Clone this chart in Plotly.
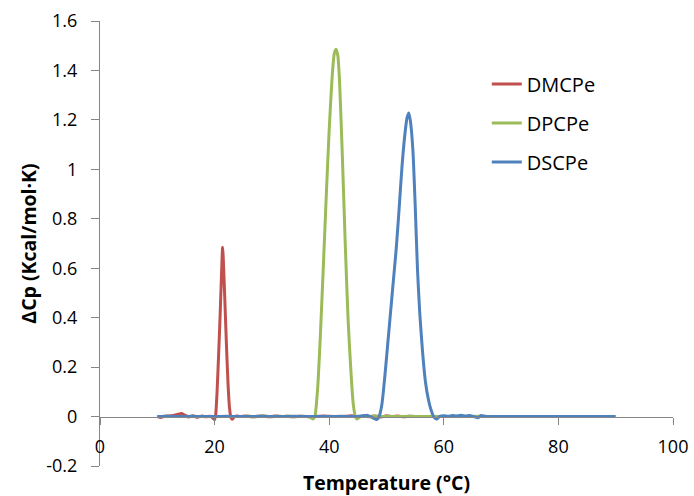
import plotly.graph_objects as go

# ---- data ----
dmcpe_T = [10, 10.6, 11.2, 12, 12.8, 13.6, 14.2, 14.8, 15.5, 16.2, 17, 17.8, 18.5, 19.2, 19.6,
           20.0, 20.2, 20.45, 20.7, 20.95, 21.2, 21.4, 21.6, 21.85, 22.1, 22.35, 22.6, 22.85,
           23.1, 23.4, 23.8, 24.5, 25.5, 26.5, 27.5, 28.5, 29.5, 30.5, 31.5, 32.5, 33.5, 35,
           37, 39, 41, 43, 44, 45, 46, 47, 48, 49, 50, 51, 52, 53, 54, 55]
dmcpe_cp = [0.0, -0.004, 0.001, 0.002, 0.004, 0.009, 0.012, 0.006, -0.002, 0.003, -0.003, 0.002,
            -0.001, 0.001, -0.004, -0.012, 0.01, 0.11, 0.25, 0.40, 0.57, 0.685, 0.59, 0.43, 0.27,
            0.13, 0.035, -0.004, -0.011, -0.002, 0.002, 0.0, 0.002, -0.001, 0.001, 0.002, -0.001,
            0.002, 0.0, 0.001, -0.001, 0.001, 0.0, 0.002, 0.0, 0.001, 0.003, -0.002, 0.003, 0.0,
            0.002, -0.002, 0.003, 0.0, 0.002, -0.001, 0.001, 0.0]

dpcpe_T = [25, 26, 27, 28, 29, 30, 31, 32, 33, 34, 35, 36, 36.8, 37.2, 37.5, 38.0, 38.5, 39.0,
           39.5, 40.0, 40.5, 40.9, 41.2, 41.5, 41.8, 42.3, 42.8, 43.3, 43.8, 44.2, 44.6, 44.9,
           45.3, 46, 47, 48, 49, 50, 52, 54, 56, 58, 60, 62, 64, 66, 68]
dpcpe_cp = [0.0, 0.002, -0.002, 0.001, 0.002, -0.001, 0.002, 0.0, 0.002, -0.001, 0.001, 0.0,
            -0.004, -0.01, 0.0, 0.12, 0.35, 0.62, 0.9, 1.16, 1.37, 1.47, 1.486, 1.46, 1.36, 1.05,
            0.7, 0.39, 0.18, 0.05, -0.003, -0.01, -0.002, 0.001, -0.001, 0.002, 0.0, 0.001, 0.0,
            0.001, 0.0, 0.001, 0.0, 0.001, 0.0, 0.001, 0.0]

dscpe_T = [10, 12, 14, 16, 18, 20, 22, 24, 26, 28, 30, 32, 34, 36, 38, 40, 42, 44, 45.2, 46.0,
           46.6, 47.2, 47.8, 48.3, 48.7, 49.2, 49.7, 50.2, 50.7, 51.2, 51.7, 52.2, 52.7, 53.2,
           53.6, 53.9, 54.2, 54.6, 55.0, 55.4, 55.8, 56.3, 56.8, 57.3, 57.8, 58.3, 58.8, 59.3,
           60, 60.8, 61.5, 62.2, 63, 63.8, 64.5, 65.2, 66, 66.5, 67.2, 68, 70, 72, 74, 76, 78,
           80, 82, 84, 86, 88, 90]
dscpe_cp = [0.0, 0.001, 0.0, 0.001, 0.0, 0.0, 0.001, 0.0, 0.0, 0.001, 0.0, 0.0, 0.001, 0.0, 0.0,
            0.0, 0.001, 0.0, 0.001, 0.003, 0.005, 0.0, -0.007, -0.012, 0.0, 0.05, 0.16, 0.29,
            0.42, 0.55, 0.68, 0.84, 1.01, 1.14, 1.21, 1.228, 1.19, 1.08, 0.86, 0.6, 0.42, 0.26,
            0.14, 0.07, 0.025, -0.003, -0.01, 0.001, 0.003, 0.001, 0.004, 0.002, 0.005, 0.002,
            0.004, 0.0, -0.005, 0.004, 0.001, 0.0, 0.0, 0.0, 0.0, 0.0, 0.0, 0.0, 0.0, 0.0, 0.0,
            0.0, 0.0]

series_names = ["DMCPe", "DPCPe", "DSCPe"]
series_colors = ["#C0504D", "#9BBB59", "#4F81BD"]

y_tickvals = [-0.2, 0, 0.2, 0.4, 0.6, 0.8, 1.0, 1.2, 1.4, 1.6]
y_ticktext = ["-0.2", "0", "0.2", "0.4", "0.6", "0.8", "1", "1.2", "1.4", "1.6"]
x_tickvals = [0, 20, 40, 60, 80, 100]

FONT = "Open Sans"
AXIS_GREY = "#868686"

fig = go.Figure()
for name, color, xs, ys in zip(series_names, series_colors,
                               [dmcpe_T, dpcpe_T, dscpe_T],
                               [dmcpe_cp, dpcpe_cp, dscpe_cp]):
    fig.add_trace(go.Scatter(x=xs, y=ys, mode="lines", name=name, legendgroup=name,
                             line=dict(color=color, width=3, shape="spline", smoothing=0.6)))

fig.update_layout(
    width=694, height=496,
    margin=dict(l=100, r=21, t=21, b=30),
    paper_bgcolor="white", plot_bgcolor="white",
    font=dict(family=FONT, size=18, color="#000000"),
    showlegend=True,
    legend=dict(x=0.675, y=0.902, xanchor="left", yanchor="top",
                font=dict(family=FONT, size=20, color="#000000"),
                traceorder="grouped", tracegroupgap=10,
                bgcolor="rgba(0,0,0,0)", borderwidth=0),
    xaxis=dict(range=[0, 100], tickvals=x_tickvals, ticks="outside", ticklen=7,
               tickcolor=AXIS_GREY, showline=True, linecolor=AXIS_GREY, linewidth=1,
               showgrid=False, zeroline=False, anchor="free", position=0.2 / 1.8,
               automargin=False, ticklabelstandoff=7,
               tickfont=dict(family=FONT, size=18, color="#000000"),
               title=dict(text="Temperature (°C)", standoff=20,
                          font=dict(family=FONT, size=19.5, weight="bold", color="#000000"))),
    yaxis=dict(range=[-0.2, 1.6], tickvals=y_tickvals, ticktext=y_ticktext, ticks="outside",
               ticklen=8, tickcolor=AXIS_GREY, showline=True, linecolor=AXIS_GREY,
               linewidth=1, showgrid=False, zeroline=False, automargin=False,
               ticklabelstandoff=10,
               tickfont=dict(family=FONT, size=18, color="#000000"),
               title=dict(text="ΔCp (Kcal/mol·K)", standoff=4,
                          font=dict(family=FONT, size=19.5, weight="bold", color="#000000"))),
)

fig.write_html("out.html")
